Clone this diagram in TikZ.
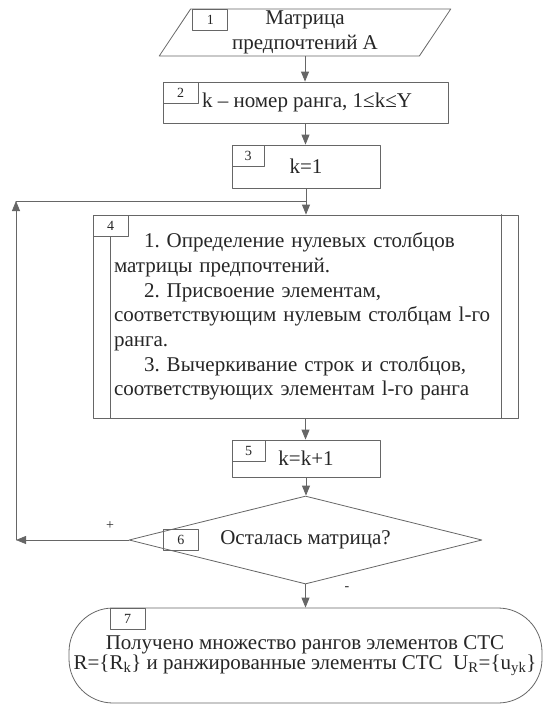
\documentclass[tikz,border=0pt]{standalone}
\usepackage{fontspec}
\setmainfont{Liberation Serif}
\usetikzlibrary{calc}
\usetikzlibrary{shapes.geometric}
\usetikzlibrary{arrows.meta}
\frenchspacing
\tikzstyle{every node}=[font=\fontsize{21}{24.7}\selectfont,text=black!85]
\tikzstyle{every path}=[line width=0.8pt,line cap=round,line join=round]
\tikzstyle{blockbox}=[draw=black!60,rectangle,inner sep=0pt]
\tikzstyle{numbox}=[draw=black!60,rectangle,anchor=north west,minimum width=35pt,minimum height=21pt,inner sep=0pt,font=\fontsize{14}{14}\selectfont]
\tikzstyle{line}=[draw=black!60]
\tikzstyle{arr}=[draw=black!60,-{Triangle[length=10pt,width=8pt]}]
\newcommand{\itemind}{\hspace*{30pt}}

\begin{document}
\begin{tikzpicture}[x=1pt,y=-1pt]
		\useasboundingbox (0,0) rectangle (548,709);
		
		% blocks
		\node[blockbox,trapezium,trapezium left angle=65,trapezium right angle=115,trapezium stretches=true,minimum width=292pt,minimum height=47pt,align=center] (b1) at (305,32.5) {Матрица\\предпочтений А};
		\node[blockbox,minimum width=285pt,minimum height=41pt] (b2) at (305.5,102.5) {\hspace*{3pt}k – номер ранга, 1≤k≤Y};
		\node[blockbox,minimum width=148pt,minimum height=43pt] (b3) at (306,166.5) {k=1};
		\node[blockbox,minimum width=425pt,minimum height=203pt,text width=383pt,align=left] (b4) at (305.5,316.5) {\itemind 1. Определение нулевых столбцов\\матрицы предпочтений.\\\itemind 2. Присвоение элементам,\\соответствующим нулевым столбцам l-го\\ранга.\\\itemind 3. Вычеркивание строк и столбцов,\\соответствующих элементам l-го ранга};
		\node[blockbox,minimum width=148pt,minimum height=37pt] (b5) at (306,458.5) {k=k+1};
		\node[blockbox,diamond,aspect=4,minimum width=353pt,minimum height=88pt] (b6) at (305.5,540) {Осталась матрица?};
		\node[blockbox,rounded corners=44pt,minimum width=473pt,minimum height=95pt] (b7) at (305.5,655.5) {};
		\node[align=center,font=\fontsize{21}{20}\selectfont] (t7) at (305,656) {Получено множество рангов элементов СТС\\R=\{R\textsubscript{k}\} и ранжированные элементы СТС\ \ U\textsubscript{R}=\{u\textsubscript{yk}\}};
		
		% block numbers
		\node[numbox] (n1) at ($(b1.top left corner)+(2,0)$) {1};
		\node[numbox] (n2) at (b2.north west) {2};
		\node[numbox,minimum width=32pt] (n3) at (b3.north west) {3};
		\node[numbox] (n4) at (b4.north west) {4};
		\node[numbox,minimum width=33pt] (n5) at (b5.north west) {5};
		\node[numbox] (n6) at (163,529) {6};
		\node[numbox] (n7) at ($(b7.north west)+(41,0)$) {7};
		
		% predefined process sides
		\draw[line] ($(b4.south west)+(18,0)$) -- ($(n4.south west)+(18,0)$);
		\draw[line] ($(b4.north east)+(-17,0)$) -- ($(b4.south east)+(-17,0)$);
		
		% flow
		\draw[arr] (b1.south) -- (b1.south |- b2.north);
		\draw[arr] (b2.south) -- (b2.south |- b3.north);
		\draw[arr] (b3.south) -- (b3.south |- b4.north);
		\draw[arr] (b4.south) -- (b4.south |- b5.north);
		\draw[arr] (b5.south) -- (b5.south |- b6.north);
		\draw[arr] (b6.south) -- (b6.south |- b7.north);
		
		% loop back
		\coordinate (loopL) at (16,540);
		\coordinate (loopT) at (16,201);
		\coordinate (loopJ) at (b3.south |- loopT);
		\draw[arr] (b6.west) -- (loopL);
		\draw[arr] (loopL) -- (loopT);
		\draw[line] (loopT) -- (loopJ);
		
		\node[font=\fontsize{14}{14}\selectfont] (plus) at (110,526) {+};
		\node[font=\fontsize{14}{14}\selectfont] (minus) at (347,589) {-};
		
	\end{tikzpicture}
\end{document}
